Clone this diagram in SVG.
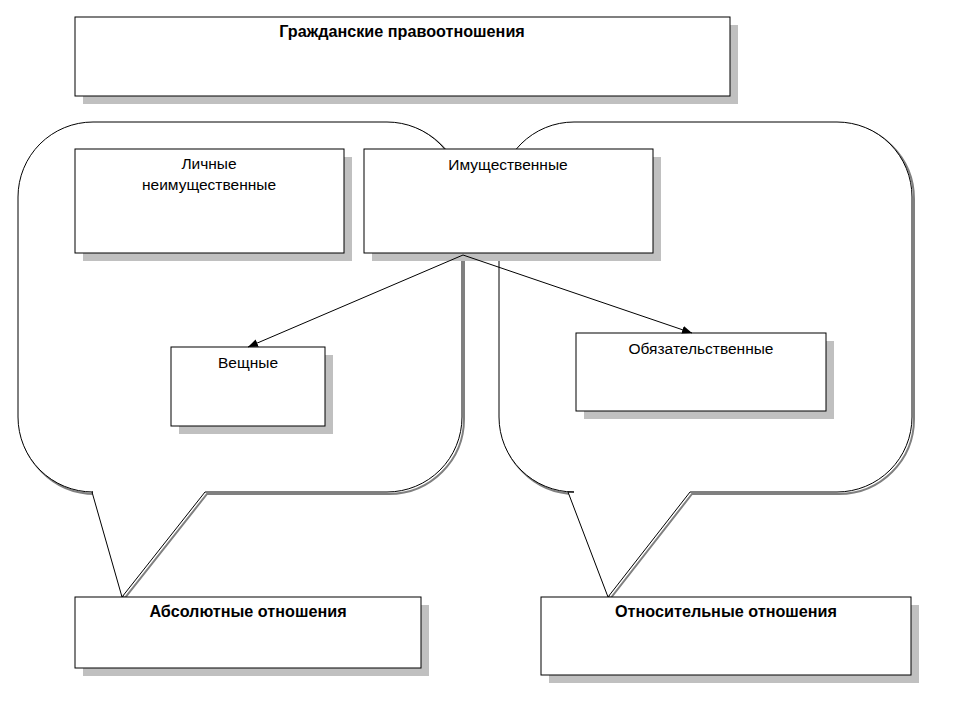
<svg xmlns="http://www.w3.org/2000/svg" width="960" height="720" viewBox="0 0 960 720">
<style>
.sh{fill:#c0c0c0}
.bx{fill:#fff;stroke:#000;stroke-width:1}
.bub{fill:#fff;stroke:#000;stroke-width:1}
.bsh{fill:none;stroke:#808080;stroke-width:2}
text{font-family:"Liberation Sans",Arial,sans-serif;font-size:15.5px;text-anchor:middle}
.b{font-weight:bold;font-size:16.2px}
</style>
<defs>
<marker id="ar" markerWidth="10" markerHeight="8" refX="10" refY="4" orient="auto" markerUnits="userSpaceOnUse">
<path d="M0,0 L10,4 L0,8 z" fill="#000"/>
</marker>
</defs>
<rect width="960" height="720" fill="#fff"/>
<g id="bubble-left">
<path class="bsh" transform="translate(2,2)" d="M93,122 H387 A75,75 0 0 1 462,197 V417 A75,75 0 0 1 387,492 H205 L122,597 L92,492 H93 A75,75 0 0 1 18,417 V197 A75,75 0 0 1 93,122 Z"/>
<path class="bub" d="M93,122 H387 A75,75 0 0 1 462,197 V417 A75,75 0 0 1 387,492 H205 L122,597 L92,492 H93 A75,75 0 0 1 18,417 V197 A75,75 0 0 1 93,122 Z"/>
</g>
<g id="bubble-right">
<path class="bsh" transform="translate(2,2)" d="M574,122 H837 A75,75 0 0 1 912,197 V417 A75,75 0 0 1 837,492 H690 L608,597 L568,492 H574 A75,75 0 0 1 499,417 V197 A75,75 0 0 1 574,122 Z"/>
<path class="bub" d="M574,122 H837 A75,75 0 0 1 912,197 V417 A75,75 0 0 1 837,492 H690 L608,597 L568,492 H574 A75,75 0 0 1 499,417 V197 A75,75 0 0 1 574,122 Z"/>
</g>
<g id="n-top"><rect class="sh" x="83" y="25" width="655" height="79"/><rect class="bx" x="75" y="17" width="655" height="79"/><text class="b" x="402" y="37">Гражданские правоотношения</text></g>
<g id="n-lichnye"><rect class="sh" x="83" y="157" width="269" height="104"/><rect class="bx" x="75" y="149" width="269" height="104"/><text x="209" y="169">Личные</text><text x="209" y="190">неимущественные</text></g>
<g id="n-imush"><rect class="sh" x="372" y="157" width="289" height="104"/><rect class="bx" x="364" y="149" width="289" height="104"/><text x="508" y="170">Имущественные</text></g>
<g id="n-veshnye"><rect class="sh" x="179" y="355" width="154" height="79"/><rect class="bx" x="171" y="347" width="154" height="79"/><text x="248" y="368">Вещные</text></g>
<g id="n-obyaz"><rect class="sh" x="584" y="341" width="250" height="78"/><rect class="bx" x="576" y="333" width="250" height="78"/><text x="701" y="354">Обязательственные</text></g>
<g id="n-abs"><rect class="sh" x="83" y="605" width="346" height="71"/><rect class="bx" x="75" y="597" width="346" height="71"/><text class="b" x="248" y="617">Абсолютные отношения</text></g>
<g id="n-otn"><rect class="sh" x="549" y="605" width="370" height="78"/><rect class="bx" x="541" y="597" width="370" height="78"/><text class="b" x="726" y="617">Относительные отношения</text></g>
<g id="connectors" stroke="#000" stroke-width="1" fill="none">
<line x1="463" y1="255" x2="248" y2="347" marker-end="url(#ar)"/>
<line x1="463" y1="255" x2="692" y2="333" marker-end="url(#ar)"/>
</g>
</svg>
